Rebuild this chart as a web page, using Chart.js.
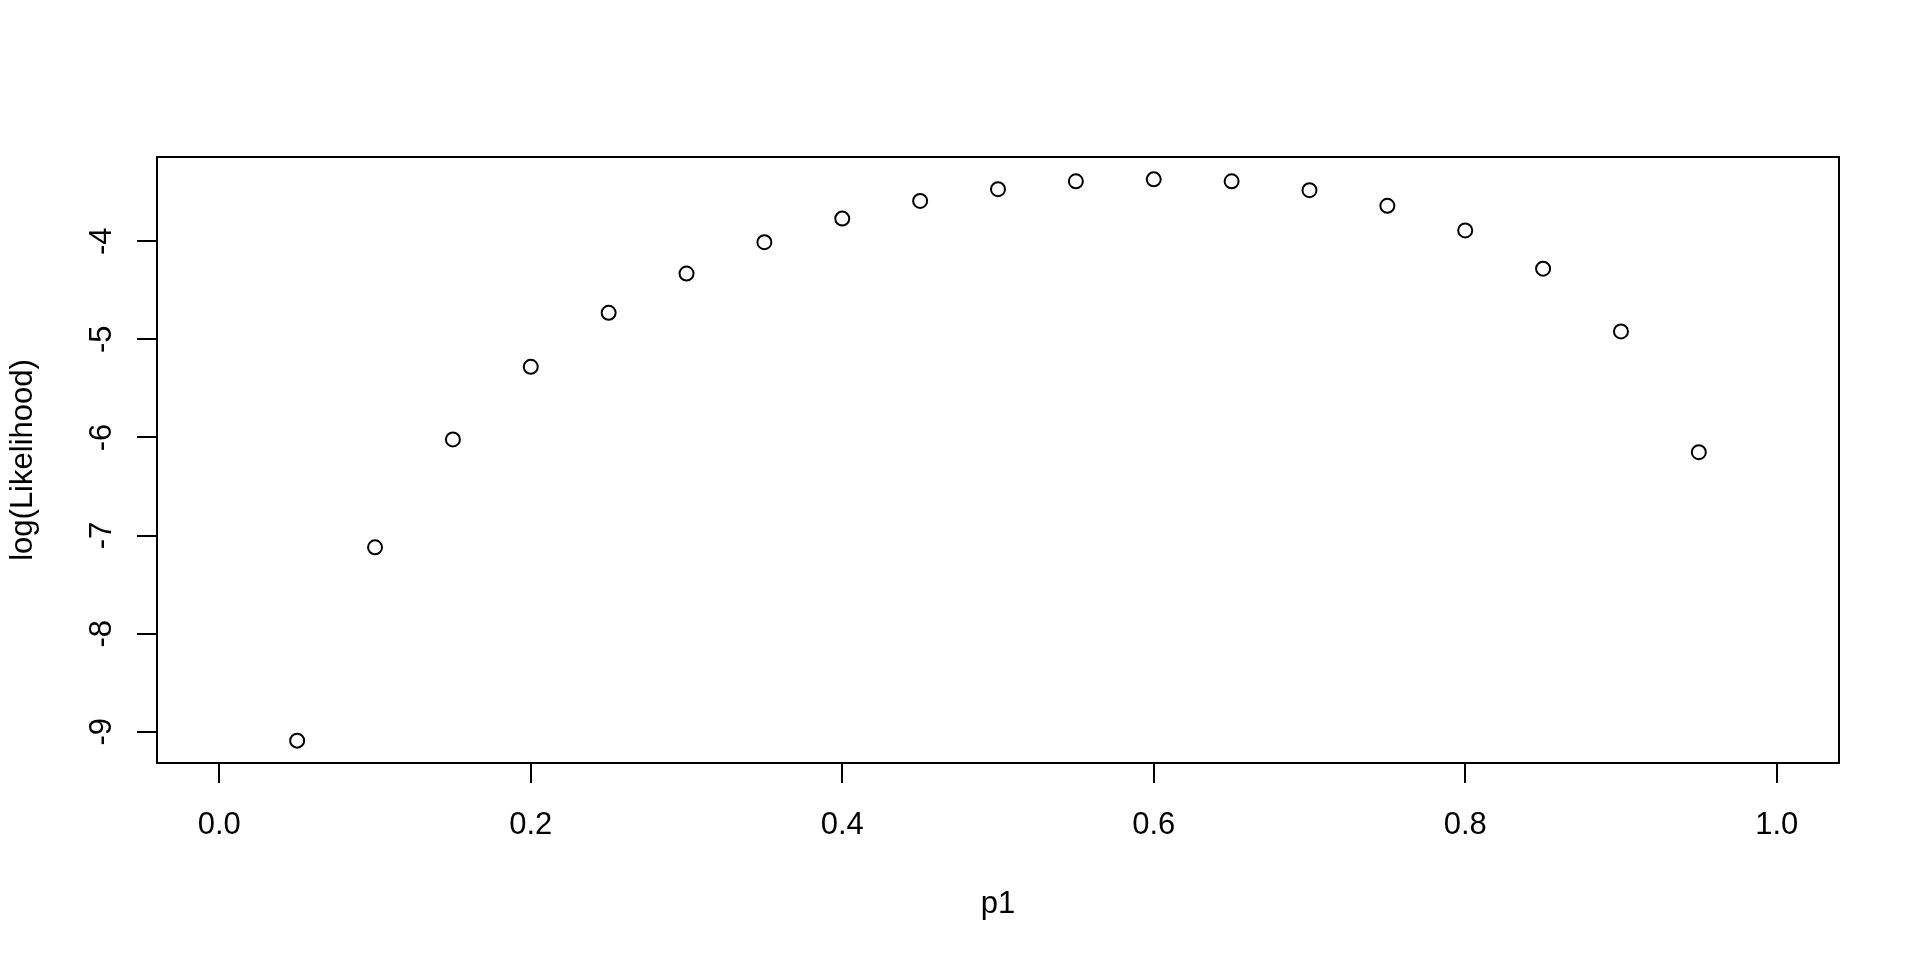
<!DOCTYPE html>
<html>
<head>
<meta charset="utf-8">
<script src="https://cdn.jsdelivr.net/npm/chart.js@4/dist/chart.umd.min.js"></script>
<style>
  html, body { margin: 0; padding: 0; background: #fff; }
  #wrap { width: 1920px; height: 960px; }
</style>
</head>
<body>
<div id="wrap"><canvas id="myChart"></canvas></div>
<script>
// p1 grid and log(Likelihood)
const p1 = [0.05, 0.10, 0.15, 0.20, 0.25, 0.30, 0.35, 0.40, 0.45, 0.50,
            0.55, 0.60, 0.65, 0.70, 0.75, 0.80, 0.85, 0.90, 0.95];
const logLik = [-9.09, -7.12, -6.02, -5.28, -4.73, -4.33, -4.01, -3.77, -3.59, -3.47,
                -3.39, -3.37, -3.39, -3.48, -3.64, -3.89, -4.28, -4.92, -6.15];
const xTicks = [0.0, 0.2, 0.4, 0.6, 0.8, 1.0];
const yTicks = [-9, -8, -7, -6, -5, -4];

const points = p1.map((x, i) => ({ x: x, y: logLik[i] }));

const font = { family: '"Liberation Sans", Arial, Helvetica, sans-serif', size: 31 };

// box around the plot region, like R's box()
const frame = {
  id: 'frame',
  afterDraw(chart) {
    const a = chart.chartArea, c = chart.ctx;
    c.save();
    c.strokeStyle = '#000';
    c.lineWidth = 2;
    c.strokeRect(a.left, a.top, a.right - a.left, a.bottom - a.top);
    c.restore();
  }
};

const ctx = document.getElementById('myChart');

new Chart(ctx, {
  type: 'scatter',
  data: {
    datasets: [{
      data: points,
      pointStyle: 'circle',
      pointRadius: 7,
      pointHoverRadius: 7,
      pointBackgroundColor: 'rgba(0,0,0,0)',
      pointBorderColor: '#000',
      pointBorderWidth: 2
    }]
  },
  options: {
    responsive: true,
    maintainAspectRatio: false,
    animation: false,
    layout: { padding: { top: 157, right: 81, bottom: 0, left: 0 } },
    plugins: {
      legend: { display: false },
      tooltip: { enabled: false }
    },
    scales: {
      x: {
        type: 'linear',
        min: -0.04,
        max: 1.04,
        afterBuildTicks: (s) => { s.ticks = xTicks.map(v => ({ value: v })); },
        afterFit: (s) => { s.height = 197; },
        grid: { drawOnChartArea: false, color: '#000', lineWidth: 2, tickLength: 20 },
        border: { display: false },
        ticks: {
          color: '#000',
          font: font,
          padding: 24,
          maxRotation: 0,
          autoSkip: false,
          callback: (v) => v.toFixed(1)
        },
        title: { display: true, text: 'p1', color: '#000', font: font, padding: { top: 0, bottom: 37 } }
      },
      y: {
        type: 'linear',
        min: -9.318,
        max: -3.142,
        afterBuildTicks: (s) => { s.ticks = yTicks.map(v => ({ value: v })); },
        afterFit: (s) => { s.width = 157; },
        grid: { drawOnChartArea: false, color: '#000', lineWidth: 2, tickLength: 20 },
        border: { display: false },
        ticks: {
          color: '#000',
          font: font,
          padding: 21,
          minRotation: 90,
          maxRotation: 90,
          crossAlign: 'center',
          autoSkip: false,
          callback: (v) => String(v)
        },
        title: { display: true, text: 'log(Likelihood)', color: '#000', font: font, padding: { top: 5, bottom: 0 } }
      }
    }
  },
  plugins: [frame]
});
</script>
</body>
</html>
